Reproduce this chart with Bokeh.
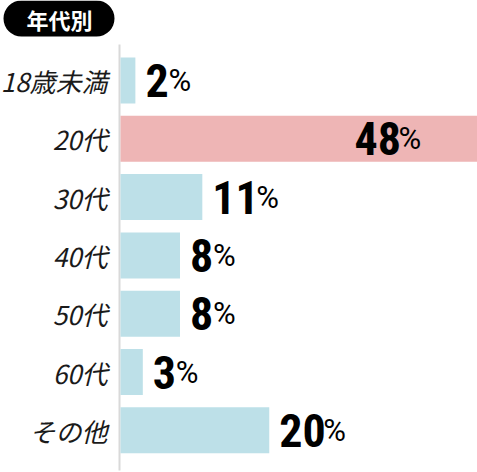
from bokeh.plotting import figure
from bokeh.models import Range1d, ColumnDataSource
from bokeh.core.properties import value
from bokeh.embed import file_html
from bokeh.resources import INLINE

# ---- data ----
categories = ["18歳未満", "20代", "30代", "40代", "50代", "60代", "その他"]
percents = [2, 48, 11, 8, 8, 3, 20]
title_text = "年代別"

# ---- layout constants (pixels) ----
W, H = 477, 472
PAGE = 0
AXIS_X = 120
RIGHT_X = 477
ROW0_Y = 80
ROW_PITCH = 58.3
XMAX = max(percents)
ppu = (RIGHT_X - AXIS_X) / XMAX

def dx(px):
    return (px - AXIS_X) / ppu

def dy(py):
    return (py - ROW0_Y) / ROW_PITCH

BLUE = "#bde0e8"
PINK = "#eeb5b5"
NUM_FONT = "Roboto Condensed"

p = figure(width=W, height=H, output_backend="svg", toolbar_location=None,
           x_range=Range1d(dx(PAGE), dx(PAGE + W)),
           y_range=Range1d(dy(PAGE + H), dy(PAGE)),
           x_axis_location=None, y_axis_location=None, min_border=0)
p.outline_line_color = None
p.xgrid.visible = False
p.ygrid.visible = False
p.background_fill_color = "white"

idx = list(range(len(categories)))
colors = [PINK if v == XMAX else BLUE for v in percents]
num_text = [str(v) for v in percents]
inside = [v == XMAX for v in percents]
num_off = [-123 if ins else 10 for ins in inside]
digit_w = 21
pct_off = [o + digit_w * len(t) + 2 for o, t in zip(num_off, num_text)]

src = ColumnDataSource(dict(y=idx, v=percents, c=colors, cat=categories,
                            num=num_text, pct=["%"] * len(idx),
                            noff=num_off, poff=pct_off, zero=[0] * len(idx)))

# axis line
p.segment(x0=[dx(AXIS_X - 1)], y0=[dy(44)], x1=[dx(AXIS_X - 1)], y1=[dy(470)],
          line_color="#d9d9d9", line_width=2)

p.hbar(y="y", left=0, right="v", height=46 / ROW_PITCH, fill_color="c",
       line_color=None, source=src)

# category labels
p.text(x="zero", y="y", text="cat", x_offset=-13, text_align="right",
       text_baseline="middle", text_font=value("Noto Sans CJK JP"),
       text_font_style="italic", text_font_size="26px", text_color="#1a1a1a",
       source=src)

# value labels
p.text(x="v", y="y", text="num", x_offset="noff", y_offset=0,
       text_align="left", text_baseline="alphabetic",
       text_font=value(NUM_FONT), text_font_style="bold",
       text_font_size="46px", text_color="black", source=src)
p.text(x="v", y="y", text="pct", x_offset="poff", y_offset=0,
       text_align="left", text_baseline="alphabetic",
       text_font=value("Roboto"), text_font_style="normal",
       text_font_size="31px", text_color="black", source=src)

# title pill
p.quad(left=[dx(3)], right=[dx(114)], top=[dy(0)], bottom=[dy(36)],
       fill_color="black", line_color=None, border_radius=18)
p.text(x=[dx(59)], y=[dy(18)], text=[title_text], text_align="center",
       text_baseline="middle", text_font=value("Noto Sans CJK JP"),
       text_font_style="bold", text_font_size="22px", text_color="white")

open("out.html", "w").write(file_html(p, INLINE))
